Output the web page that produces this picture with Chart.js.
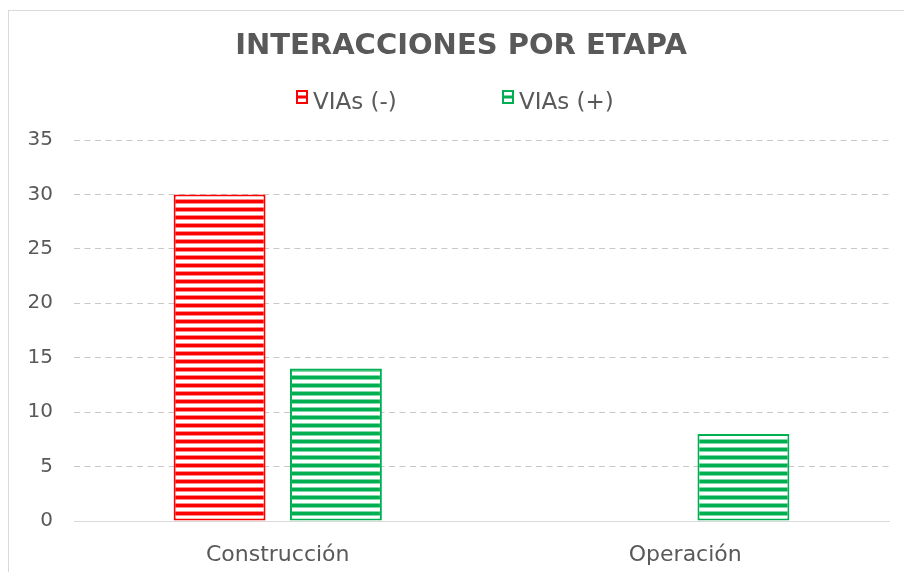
<!DOCTYPE html>
<html>
<head>
<meta charset="utf-8">
<title>Interacciones por etapa</title>
<script src="https://cdn.jsdelivr.net/npm/chart.js@4"></script>
<style>
  body { margin: 0; background: #fff; }
  #marco { position: absolute; left: 8px; top: 10px; width: 1000px; height: 1000px; border: 1px solid #d9d9d9; }
  #grafico { position: absolute; left: 0; top: 0; }
</style>
</head>
<body>
<div id="marco"></div>
<canvas id="grafico" width="904" height="572"></canvas>
<script>
// datos
const etapas = ['Construcción', 'Operación'];
const series = ['VIAs (-)', 'VIAs (+)'];
const viasNegativas = [30, 0];
const viasPositivas = [14, 8];
const ejeMin = 0, ejeMax = 35, ejePaso = 5;
const titulo = 'INTERACCIONES POR ETAPA';

const gris = '#595959';
const fuente = '"DejaVu Sans", Verdana, sans-serif';
const rojo = '#ff0000', verde = '#00b050';

const canvas = document.getElementById('grafico');
const ctx = canvas.getContext('2d');

// relleno de rayas horizontales anchas
function rayado(color, medio) {
  const c = document.createElement('canvas');
  c.width = 8; c.height = 8;
  const g = c.getContext('2d');
  g.fillStyle = '#fff'; g.fillRect(0, 0, 8, 8);
  g.fillStyle = color; g.fillRect(0, 0, 8, 3);
  g.fillStyle = medio; g.fillRect(0, 3, 8, 1); g.fillRect(0, 7, 8, 1);
  return ctx.createPattern(c, 'repeat');
}

// titulo y leyenda dibujados a mano
const cabecera = {
  id: 'cabecera',
  afterDraw(chart) {
    const c = chart.ctx;
    c.save();
    c.fillStyle = gris;
    c.textAlign = 'center';
    c.textBaseline = 'alphabetic';
    c.font = 'bold 29px ' + fuente;
    c.fillText(titulo, 461, 54);

    const xs = [296, 502];
    c.textAlign = 'left';
    c.font = '23px ' + fuente;
    chart.data.datasets.forEach((ds, i) => {
      const x = xs[i];
      c.fillStyle = '#fff';
      c.fillRect(x, 90, 12, 14);
      c.fillStyle = ds.borderColor;
      c.fillRect(x, 95.5, 12, 3);
      c.strokeStyle = ds.borderColor;
      c.lineWidth = 2;
      c.strokeRect(x + 1, 91, 10, 12);
      c.fillStyle = gris;
      c.fillText(ds.label, x + 17, 109);
    });
    c.restore();
  }
};

new Chart(ctx, {
  type: 'bar',
  data: {
    labels: etapas,
    datasets: [
      {
        label: series[0],
        data: viasNegativas,
        backgroundColor: rayado(rojo, '#ff8c8c'),
        borderColor: rojo,
        borderWidth: 2,
        borderSkipped: false
      },
      {
        label: series[1],
        data: viasPositivas,
        backgroundColor: rayado(verde, '#80d8a8'),
        borderColor: verde,
        borderWidth: 2,
        borderSkipped: false
      }
    ]
  },
  options: {
    responsive: false,
    animation: false,
    categoryPercentage: 0.571,
    barPercentage: 0.79,
    layout: { padding: { left: 0, top: 140, right: 15, bottom: 0 } },
    plugins: {
      legend: { display: false },
      title: { display: false },
      tooltip: { enabled: false }
    },
    scales: {
      x: {
        grid: { display: false },
        border: { display: true, color: '#d9d9d9', width: 1 },
        ticks: { color: gris, font: { family: fuente, size: 22 }, padding: 13 },
        afterFit(scale) { scale.height = 51; }
      },
      y: {
        min: ejeMin,
        max: ejeMax,
        ticks: { stepSize: ejePaso, color: gris, font: { family: fuente, size: 20 }, padding: 21 },
        grid: {
          drawTicks: false,
          color: c => c.tick && c.tick.value === 0 ? 'rgba(0,0,0,0)' : '#c8c8c8',
          lineWidth: 1
        },
        border: { display: false, dash: [6, 4.5] },
        afterFit(scale) { scale.width = 74; }
      }
    }
  },
  plugins: [cabecera]
});
</script>
</body>
</html>
